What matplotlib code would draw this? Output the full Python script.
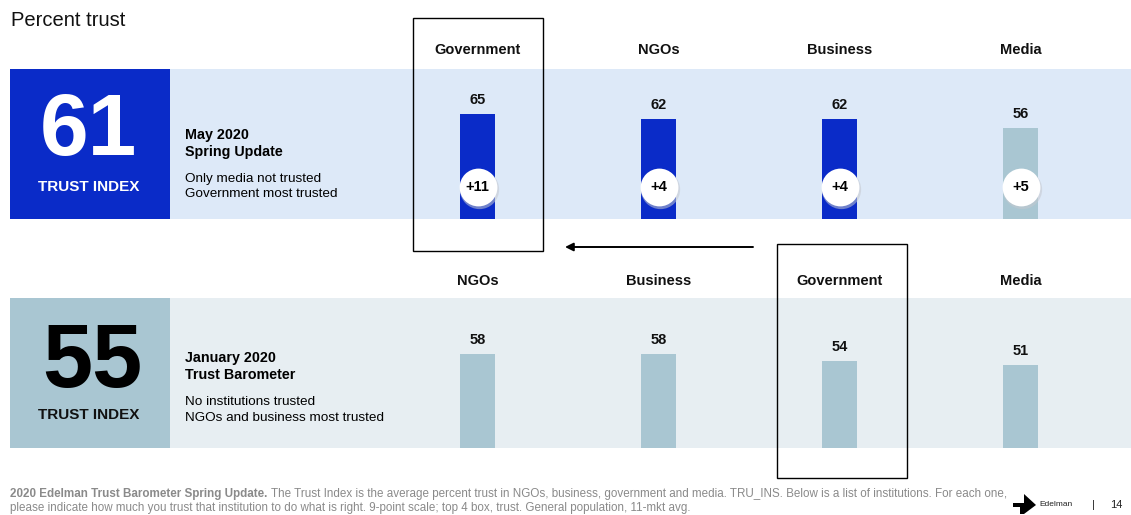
import matplotlib.pyplot as plt
from matplotlib.patches import Rectangle, Polygon

plt.rcParams['font.family'] = ['Liberation Sans', 'DejaVu Sans']

# data
may_labels = ['Government', 'NGOs', 'Business', 'Media']
may_values = [65, 62, 62, 56]
may_change = ['+11', '+4', '+4', '+5']
may_trusted = [True, True, True, False]
jan_labels = ['NGOs', 'Business', 'Government', 'Media']
jan_values = [58, 58, 54, 51]
may_index = 61
jan_index = 55

DARK = '#0a2bc8'
LIGHT = '#a9c6d2'
TOP_BAND = '#dde9f8'
BOT_BAND = '#e7eef2'

W, H = 1131, 515
fig = plt.figure(figsize=(W / 100, H / 100), dpi=100)
fig.patch.set_facecolor('white')


def fx(x):
    return x / W


def fy(y):
    return 1 - y / H


def rect(x0, y0, x1, y1, **kw):
    fig.patches.append(Rectangle((fx(x0), fy(y1)), fx(x1) - fx(x0), fy(y0) - fy(y1),
                                 transform=fig.transFigure, **kw))


def txt(x, y, s, **kw):
    fig.text(fx(x), fy(y), s, **kw)


# background bands
rect(170, 69, 1131, 219, facecolor=TOP_BAND, edgecolor='none', zorder=-5)
rect(10, 69, 170, 219, facecolor=DARK, edgecolor='none', zorder=-5)
rect(170, 298, 1131, 448, facecolor=BOT_BAND, edgecolor='none', zorder=-5)
rect(10, 298, 170, 448, facecolor=LIGHT, edgecolor='none', zorder=-5)

txt(11, 20, 'Percent trust', fontsize=14.5, va='center', ha='left', color='#111111')

# left index boxes
txt(88, 133, str(may_index), fontsize=63, fontweight='bold', color='white', ha='center', va='center')
txt(89, 187, 'TRUST INDEX', fontsize=11, fontweight='bold', color='white', ha='center', va='center')
txt(92, 363, str(jan_index), fontsize=65, fontweight='bold', color='black', ha='center', va='center')
txt(89, 415, 'TRUST INDEX', fontsize=11, fontweight='bold', color='#111111', ha='center', va='center')

txt(185, 135, 'May 2020', fontsize=10.3, fontweight='bold', va='center')
txt(185, 152, 'Spring Update', fontsize=10.3, fontweight='bold', va='center')
txt(185, 179, 'Only media not trusted', fontsize=9.7, va='center')
txt(185, 194, 'Government most trusted', fontsize=9.7, va='center')

txt(185, 358, 'January 2020', fontsize=10.3, fontweight='bold', va='center')
txt(185, 375, 'Trust Barometer', fontsize=10.3, fontweight='bold', va='center')
txt(185, 402, 'No institutions trusted', fontsize=9.7, va='center')
txt(185, 418, 'NGOs and business most trusted', fontsize=9.7, va='center')

# bar axes: x centers at 477.5 + 181*i, 1.62 px per point
PX = 1.62
left, right = 387, 1111


def bar_axes(base):
    ax = fig.add_axes([fx(left), fy(base), fx(right) - fx(left), 150 / H])
    ax.set_xlim(-0.5, 3.5)
    ax.set_ylim(0, 150 / PX)
    ax.axis('off')
    ax.patch.set_alpha(0)
    return ax


ax1 = bar_axes(219)
xs = range(len(may_values))
cols = [DARK if t else LIGHT for t in may_trusted]
ax1.bar(xs, may_values, width=0.188, color=cols, zorder=2)
for i, v in enumerate(may_values):
    ax1.annotate(str(v), (i, v), xytext=(0, 5), textcoords='offset points',
                 ha='center', va='bottom', fontsize=10.5, fontweight='bold', color='#111111')
    ax1.annotate(may_labels[i], (i, 0), xytext=(0, (219 - 50) / 1.389), textcoords='offset points',
                 ha='center', va='center', fontsize=10.5, fontweight='bold', color='#111111',
                 annotation_clip=False)
circ_y = 32 / PX
ax1.scatter([x + 0.01 for x in xs], [circ_y - 1.3] * 4, s=800, color='#c4c8cf', alpha=0.55,
            zorder=3, linewidths=0)
ax1.scatter(xs, [circ_y] * 4, s=740, color='white', zorder=4, linewidths=0)
for i, c in enumerate(may_change):
    ax1.text(i, circ_y, c, ha='center', va='center', fontsize=10.5, fontweight='bold', zorder=5)

ax2 = bar_axes(448)
ax2.bar(xs, jan_values, width=0.188, color=LIGHT, zorder=2)
for i, v in enumerate(jan_values):
    ax2.annotate(str(v), (i, v), xytext=(0, 5), textcoords='offset points',
                 ha='center', va='bottom', fontsize=10.5, fontweight='bold', color='#111111')
    ax2.annotate(jan_labels[i], (i, 0), xytext=(0, (448 - 281) / 1.389), textcoords='offset points',
                 ha='center', va='center', fontsize=10.5, fontweight='bold', color='#111111',
                 annotation_clip=False)

# highlight boxes and arrow
rect(413, 18, 543, 251, facecolor='none', edgecolor='black', linewidth=1, zorder=6)
rect(777, 244, 907, 478, facecolor='none', edgecolor='black', linewidth=1, zorder=6)
fig.add_artist(plt.Annotation('', xy=(fx(565), fy(247)), xytext=(fx(753), fy(247)),
                              xycoords='figure fraction', textcoords='figure fraction',
                              arrowprops=dict(arrowstyle='-|>', color='black', lw=1.4,
                                              mutation_scale=12, shrinkA=0, shrinkB=0)))

# footer
grey = '#8a8a8a'
t = fig.text(fx(10), fy(494), '2020 Edelman Trust Barometer Spring Update.', fontsize=8.4,
             fontweight='bold', color=grey, va='center')
fig.canvas.draw()
bb = t.get_window_extent()
fig.text(bb.x1 / W + 0.003, fy(494),
         'The Trust Index is the average percent trust in NGOs, business, government and media. '
         'TRU_INS. Below is a list of institutions. For each one,', fontsize=8.4, color=grey, va='center')
txt(10, 508, 'please indicate how much you trust that institution to do what is right. '
    '9-point scale; top 4 box, trust. General population, 11-mkt avg.', fontsize=8.4, color=grey, va='center')

# logo
fig.patches.append(Polygon([(fx(1013), fy(503)), (fx(1024), fy(503)), (fx(1024), fy(494)),
                            (fx(1036), fy(505)), (fx(1024), fy(514)), (fx(1020), fy(514)),
                            (fx(1020), fy(507)), (fx(1013), fy(507))],
                           closed=True, transform=fig.transFigure, facecolor='black', edgecolor='none'))
txt(1039, 505, 'Edelman', fontsize=6, va='center', color='#222222')
txt(1093, 505, '|', fontsize=8, va='center', ha='center', color='#222222')
txt(1110, 505, '14', fontsize=8, va='center', color='#222222')

fig.savefig('out.png', dpi=100)
